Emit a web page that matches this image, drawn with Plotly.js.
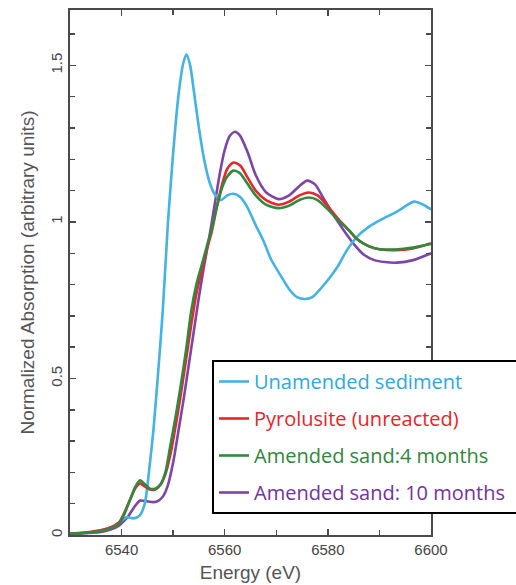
<!DOCTYPE html>
<html>
<head>
<meta charset="utf-8">
<script src="https://cdn.plot.ly/plotly-3.0.1.min.js"></script>
<style>
  html, body { margin: 0; padding: 0; background: #fff; }
  #chart { width: 516px; height: 585px; }
</style>
</head>
<body>
<div id="chart"></div>
<script>
// Mn K-edge XANES spectra, normalized absorption vs. energy (eV)

const seriesNames = [
  "Unamended sediment",
  "Pyrolusite (unreacted)",
  "Amended sand:4 months",
  "Amended sand: 10 months"
];

const energySediment = [6530, 6533, 6536, 6538, 6539.5, 6541, 6542.3, 6543.5, 6544.5, 6545.3, 6546.2, 6547, 6548, 6549, 6550, 6551, 6552, 6552.6, 6553.3, 6554, 6555, 6556, 6557, 6558, 6559.3, 6560.5, 6561.7, 6563, 6564.3, 6566, 6567.5, 6569, 6570.8, 6572.5, 6574, 6575.6, 6577, 6578.5, 6580.5, 6582, 6583.7, 6585.7, 6588, 6590.2, 6593.4, 6596.7, 6598.5, 6600];
const absSediment = [0.005, 0.008, 0.015, 0.025, 0.04, 0.057, 0.053, 0.062, 0.10, 0.20, 0.34, 0.50, 0.72, 1.00, 1.22, 1.40, 1.51, 1.535, 1.50, 1.42, 1.30, 1.20, 1.13, 1.09, 1.07, 1.085, 1.09, 1.08, 1.05, 0.99, 0.94, 0.88, 0.83, 0.785, 0.76, 0.754, 0.76, 0.785, 0.825, 0.86, 0.91, 0.953, 0.985, 1.006, 1.033, 1.065, 1.055, 1.04];

const energyPyrolusite = [6530, 6533, 6536, 6538, 6539.5, 6540.5, 6541.7, 6542.7, 6543.6, 6544.5, 6545.5, 6546.5, 6547.5, 6548.5, 6549.5, 6550.5, 6551.5, 6552.5, 6553.5, 6554.5, 6555.5, 6556.5, 6557.5, 6558.5, 6559.5, 6560.5, 6561.7, 6563, 6564.5, 6566, 6568, 6570.4, 6572.5, 6574.5, 6576.3, 6578, 6580, 6582, 6584, 6585.7, 6588, 6590, 6593, 6596.5, 6600];
const absPyrolusite = [0.005, 0.008, 0.015, 0.025, 0.04, 0.07, 0.115, 0.15, 0.165, 0.155, 0.145, 0.145, 0.16, 0.195, 0.26, 0.35, 0.45, 0.56, 0.67, 0.77, 0.84, 0.91, 0.97, 1.05, 1.12, 1.17, 1.19, 1.18, 1.14, 1.10, 1.07, 1.055, 1.065, 1.085, 1.094, 1.085, 1.05, 1.01, 0.975, 0.945, 0.922, 0.913, 0.91, 0.915, 0.932];

const energySand4 = [6530, 6533, 6536, 6538, 6539.5, 6540.5, 6541.7, 6542.7, 6543.6, 6544.5, 6545.5, 6546.5, 6547.5, 6548.5, 6549.4, 6550.5, 6551.5, 6552.5, 6553.5, 6554.5, 6555.5, 6556.5, 6557.5, 6558.5, 6559.5, 6560.5, 6561.7, 6563, 6564.5, 6566, 6568, 6570.4, 6572.5, 6574.5, 6576.3, 6578, 6580, 6582, 6584, 6585.7, 6588, 6590, 6593, 6596.5, 6600];
const absSand4 = [0.004, 0.007, 0.013, 0.022, 0.035, 0.065, 0.115, 0.155, 0.175, 0.162, 0.148, 0.148, 0.16, 0.20, 0.28, 0.38, 0.48, 0.59, 0.715, 0.80, 0.86, 0.92, 0.98, 1.05, 1.11, 1.145, 1.164, 1.155, 1.12, 1.085, 1.055, 1.044, 1.052, 1.07, 1.078, 1.07, 1.04, 1.005, 0.975, 0.945, 0.922, 0.913, 0.912, 0.918, 0.93];

const energySand10 = [6530, 6533, 6536, 6538, 6539.5, 6540.5, 6541.3, 6542.5, 6543.6, 6544.8, 6546.2, 6547.2, 6548.1, 6549, 6550.1, 6551, 6552, 6553, 6554, 6554.9, 6556, 6557, 6558, 6559, 6560, 6561, 6562, 6563, 6564.5, 6566, 6568, 6570.4, 6572.5, 6574.5, 6576, 6577.5, 6579, 6581, 6583, 6585, 6587, 6589, 6591, 6593.4, 6596.5, 6600];
const absSand10 = [0.003, 0.006, 0.01, 0.018, 0.03, 0.045, 0.06, 0.09, 0.11, 0.108, 0.105, 0.11, 0.125, 0.16, 0.24, 0.33, 0.43, 0.54, 0.65, 0.75, 0.86, 0.95, 1.05, 1.15, 1.23, 1.275, 1.288, 1.275, 1.22, 1.15, 1.095, 1.073, 1.085, 1.115, 1.132, 1.12, 1.08, 1.025, 0.975, 0.93, 0.895, 0.878, 0.872, 0.87, 0.878, 0.90];

const lineColors = ["#43B3E6", "#E8262B", "#2F8A3E", "#7D45A6"];
const labelColors = ["#2DA9E1", "#E8232A", "#2E873B", "#7232A0"];

const xs = [energySediment, energyPyrolusite, energySand4, energySand10];
const ys = [absSediment, absPyrolusite, absSand4, absSand10];

// Trailing padding on the longest entry lets the legend frame run off the right edge
const legendPad = ["", "", "", "&nbsp;&nbsp;&nbsp;&nbsp;"];

const traces = seriesNames.map((name, i) => ({
  type: "scatter",
  mode: "lines",
  x: xs[i],
  y: ys[i],
  name: '<span style="color:' + labelColors[i] + '">' + name + '</span>' + legendPad[i],
  legendgroup: "g" + i,
  legendrank: i + 1,
  line: { color: lineColors[i], width: 2.6, shape: "spline", smoothing: 0.7 },
  hoverinfo: "skip"
}));

// Purple drawn beneath, sediment on top of the red/green pair
const drawOrder = [3, 0, 1, 2];
const data = drawOrder.map(i => traces[i]);

const axisColor = "#4a4a4a";

const layout = {
  width: 516,
  height: 585,
  margin: { l: 70, r: 85, t: 10, b: 50, autoexpand: false },
  paper_bgcolor: "#fff",
  plot_bgcolor: "#fff",
  showlegend: true,
  font: { family: "Liberation Sans, Arial, sans-serif", color: "#444" },
  xaxis: {
    range: [6530, 6600],
    dtick: 20,
    tick0: 6520,
    ticks: "inside",
    ticklen: 6,
    tickwidth: 1.5,
    tickcolor: axisColor,
    minor: { dtick: 10, ticks: "inside", ticklen: 5, tickwidth: 1.5, tickcolor: axisColor },
    showline: true,
    linecolor: axisColor,
    linewidth: 2,
    mirror: "ticks",
    showgrid: false,
    zeroline: false,
    automargin: false,
    tickfont: { size: 15, color: "#444" },
    title: { text: "Energy (eV)", font: { size: 19, color: "#555" }, standoff: 9 }
  },
  yaxis: {
    range: [0, 1.677],
    dtick: 0.5,
    tick0: 0,
    ticks: "inside",
    ticklen: 6,
    tickwidth: 1.5,
    tickcolor: axisColor,
    minor: { dtick: 0.1, ticks: "inside", ticklen: 5, tickwidth: 1.5, tickcolor: axisColor },
    showline: true,
    linecolor: axisColor,
    linewidth: 2,
    mirror: "ticks",
    showgrid: false,
    zeroline: false,
    automargin: false,
    tickangle: -90,
    tickfont: { size: 15, color: "#444" },
    title: { text: "Normalized Absorption (arbitrary units)", font: { size: 19, color: "#555" }, standoff: 8 }
  },
  legend: {
    x: (212 - 70) / 361,
    xanchor: "left",
    y: (535 - 360) / 525,
    yanchor: "top",
    bgcolor: "#fff",
    bordercolor: "#000",
    borderwidth: 2,
    font: { family: "Open Sans, Noto Sans, sans-serif", size: 20 },
    tracegroupgap: 8,
    itemwidth: 30
  }
};

Plotly.newPlot("chart", data, layout, { staticPlot: true, displayModeBar: false });
</script>
</body>
</html>
